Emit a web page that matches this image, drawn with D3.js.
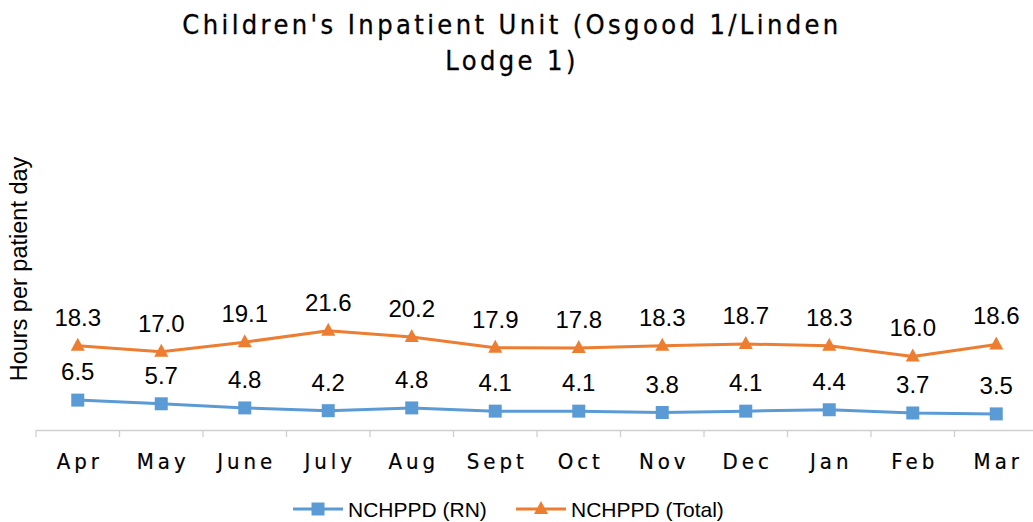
<!DOCTYPE html>
<html><head><meta charset="utf-8">
<script src="https://cdn.jsdelivr.net/npm/d3@7/dist/d3.min.js"></script>
<style>body{margin:0;background:#fff}svg{display:block}</style>
</head><body>
<svg id="c" width="1033" height="522"></svg>
<script>
const months = ["Apr","May","June","July","Aug","Sept","Oct","Nov","Dec","Jan","Feb","Mar"];
const rnValues = [6.5,5.7,4.8,4.2,4.8,4.1,4.1,3.8,4.1,4.4,3.7,3.5];
const totalValues = [18.3,17.0,19.1,21.6,20.2,17.9,17.8,18.3,18.7,18.3,16.0,18.6];
const seriesNames = ["NCHPPD (RN)","NCHPPD (Total)"];
const seriesColors = ["#5B9BD5","#ED7D31"];
const titleLines = ["Children's Inpatient Unit (Osgood 1/Linden","Lodge 1)"];
const yTitle = "Hours per patient day";

const svg = d3.select("#c");
const x = d3.scaleBand().domain(months).range([36,1038]);
const y = d3.scaleLinear().domain([0,60]).range([430,154]);
const cx = m => x(m) + x.bandwidth()/2;

// title
const tf = "'Liberation Sans Narrow','DejaVu Sans Condensed',sans-serif";
svg.append("g").selectAll("text").data(titleLines).join("text")
  .attr("x",512).attr("y",(d,i)=>34+i*36)
  .attr("text-anchor","middle").attr("font-family",tf)
  .attr("font-size",27).attr("letter-spacing","3.4px").attr("fill","#000")
  .attr("stroke","#000").attr("stroke-width",0.3).text(d=>d);

// y title
svg.append("text").attr("transform","translate(27,269) rotate(-90)")
  .attr("text-anchor","middle").attr("font-family","'Liberation Sans',Arial,sans-serif")
  .attr("font-size",23.5).attr("fill","#000").text(yTitle);

// x axis
const ax = svg.append("g").attr("transform","translate(0,430)")
  .call(d3.axisBottom(x).tickSize(0).tickPadding(0));
ax.select(".domain").attr("stroke","#d0d0d0").attr("stroke-width",1.3);
ax.selectAll(".tick text").remove();
const bounds = months.map(m=>x(m));
svg.append("g").selectAll("line").data(bounds).join("line")
  .attr("x1",d=>d).attr("x2",d=>d).attr("y1",430).attr("y2",437)
  .attr("stroke","#d0d0d0").attr("stroke-width",1.3);
svg.append("g").selectAll("text").data(months).join("text")
  .attr("x",d=>cx(d)+2).attr("y",469).attr("text-anchor","middle")
  .attr("font-family",tf).attr("font-size",22).attr("letter-spacing","4px")
  .attr("fill","#000").attr("stroke","#000").attr("stroke-width",0.2).text(d=>d);

const line = d3.line().x((d,i)=>cx(months[i])).y(d=>y(d));
const labelFont = "'Liberation Sans',Arial,sans-serif";

function drawSeries(vals, color, marker){
  const g = svg.append("g");
  g.append("path").datum(vals).attr("d",line).attr("fill","none")
    .attr("stroke",color).attr("stroke-width",3).attr("stroke-linejoin","round");
  g.selectAll("path.m").data(vals).join("path").attr("class","m")
    .attr("transform",(d,i)=>`translate(${cx(months[i])},${y(d)})`)
    .attr("d", marker).attr("fill",color);
  g.selectAll("text").data(vals).join("text")
    .attr("x",(d,i)=>cx(months[i])).attr("y",d=>y(d)-20)
    .attr("text-anchor","middle").attr("font-family",labelFont)
    .attr("font-size",24).attr("fill","#000").text(d=>d.toFixed(1));
}
const sq = "M-6.5,-6.5H6.5V6.5H-6.5Z";
const tri = "M0,-8L7,5L-7,5Z";
drawSeries(rnValues, seriesColors[0], sq);
drawSeries(totalValues, seriesColors[1], tri);

// legend
const lg = svg.append("g");
const items = [{x:293, name:seriesNames[0], c:seriesColors[0], m:sq},{x:516,name:seriesNames[1],c:seriesColors[1],m:tri}];
items.forEach(it=>{
  lg.append("line").attr("x1",it.x).attr("x2",it.x+50).attr("y1",509).attr("y2",509)
    .attr("stroke",it.c).attr("stroke-width",3);
  lg.append("path").attr("transform",`translate(${it.x+25},509)`).attr("d",it.m).attr("fill",it.c);
  lg.append("text").attr("x",it.x+55).attr("y",517).attr("font-family",labelFont)
    .attr("font-size",21).attr("fill","#000").text(it.name);
});
</script>
</body></html>
